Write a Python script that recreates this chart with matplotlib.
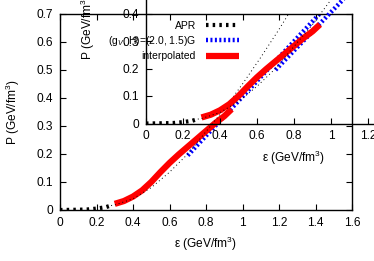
import matplotlib
matplotlib.use('Agg')
import matplotlib.pyplot as plt
import numpy as np

plt.rcParams['font.family'] = ['Liberation Sans', 'DejaVu Sans']
plt.rcParams['mathtext.fontset'] = 'custom'
plt.rcParams['mathtext.rm'] = 'Liberation Sans'
plt.rcParams['mathtext.it'] = 'Liberation Sans:italic'

# APR (thick part, low density)
apr_e = [0.0, 0.05, 0.10, 0.15, 0.20, 0.25, 0.28]
apr_p = [0.0, 0.0005, 0.001, 0.002, 0.005, 0.010, 0.016]
# APR continuation (thin dotted)
aprx_e = [0.28, 0.30, 0.40, 0.50, 0.60, 0.70, 0.80, 0.90, 1.00, 1.10, 1.20, 1.30, 1.40]
aprx_p = [0.016, 0.018, 0.040, 0.080, 0.135, 0.200, 0.280, 0.360, 0.450, 0.545, 0.645, 0.750, 0.860]
# quark matter (g_V, H) = (2.0, 1.5)G
qm_e = [0.70, 0.80, 0.90, 1.00, 1.10, 1.20, 1.30, 1.40, 1.50, 1.60]
qm_p = [0.195, 0.265, 0.335, 0.405, 0.475, 0.545, 0.615, 0.685, 0.755, 0.825]
# interpolated
int_e = [0.30, 0.35, 0.40, 0.45, 0.50, 0.55, 0.60, 0.65, 0.70, 0.75, 0.80, 0.85, 0.90, 0.94]
int_p = [0.022, 0.032, 0.048, 0.070, 0.100, 0.135, 0.168, 0.198, 0.226, 0.254, 0.282, 0.310, 0.335, 0.360]

xticks = [0, 0.2, 0.4, 0.6, 0.8, 1.0, 1.2, 1.4, 1.6]
yticks = [0, 0.1, 0.2, 0.3, 0.4, 0.5, 0.6, 0.7]
fs = 8.6
fs_key = 7.5


def draw(ax):
    ax.plot(apr_e, apr_p, color='black', lw=3.0, dashes=(0.6, 1.0), label='APR')
    ax.plot(qm_e, qm_p, color='#0000ff', lw=3.2, dashes=(0.45, 0.55),
            label='(g$_V$, H)=(2.0, 1.5)G')
    ax.plot(int_e, int_p, color='red', lw=4.5, solid_capstyle='butt', label='interpolated')
    ax.plot(aprx_e, aprx_p, color='black', lw=0.7, dashes=(1, 3))
    ax.set_xlim(0, 1.6)
    ax.set_ylim(0, 0.7)
    ax.set_xticks(xticks)
    ax.set_yticks(yticks)
    ax.set_xticklabels(['%g' % v for v in xticks])
    ax.set_yticklabels(['%g' % v for v in yticks])
    ax.tick_params(direction='in', length=4, width=0.8, top=True, right=True,
                   labelsize=fs, pad=5.0)
    ax.patch.set_alpha(0)
    for s in ax.spines.values():
        s.set_linewidth(1.0)
    ax.set_xlabel('ε (GeV/fm$^3$)', fontsize=fs)
    ax.set_ylabel('P (GeV/fm$^3$)', fontsize=fs)


fig = plt.figure(figsize=(3.74, 2.61), dpi=100)
ax1 = fig.add_axes([60/374, 51/261, 292/374, 196/261])
draw(ax1)
ax1.xaxis.set_label_coords(0.5, -0.125)
ax1.yaxis.set_label_coords(-0.13, 0.5)

ax2 = fig.add_axes([146/374, 137.5/261, 296/374, 192.5/261])
draw(ax2)
ax2.xaxis.set_label_coords(0.5, -0.13)
ax2.yaxis.set_label_coords(-0.165, 0.5)

ax2.legend(loc='upper right', bbox_to_anchor=(239/374, 1 - 21/261),
           bbox_transform=fig.transFigure, frameon=False, fontsize=fs_key,
           markerfirst=False, handlelength=3.2, handletextpad=0.95,
           labelspacing=0.3, borderpad=0, borderaxespad=0)

fig.savefig('out.png', dpi=100)
